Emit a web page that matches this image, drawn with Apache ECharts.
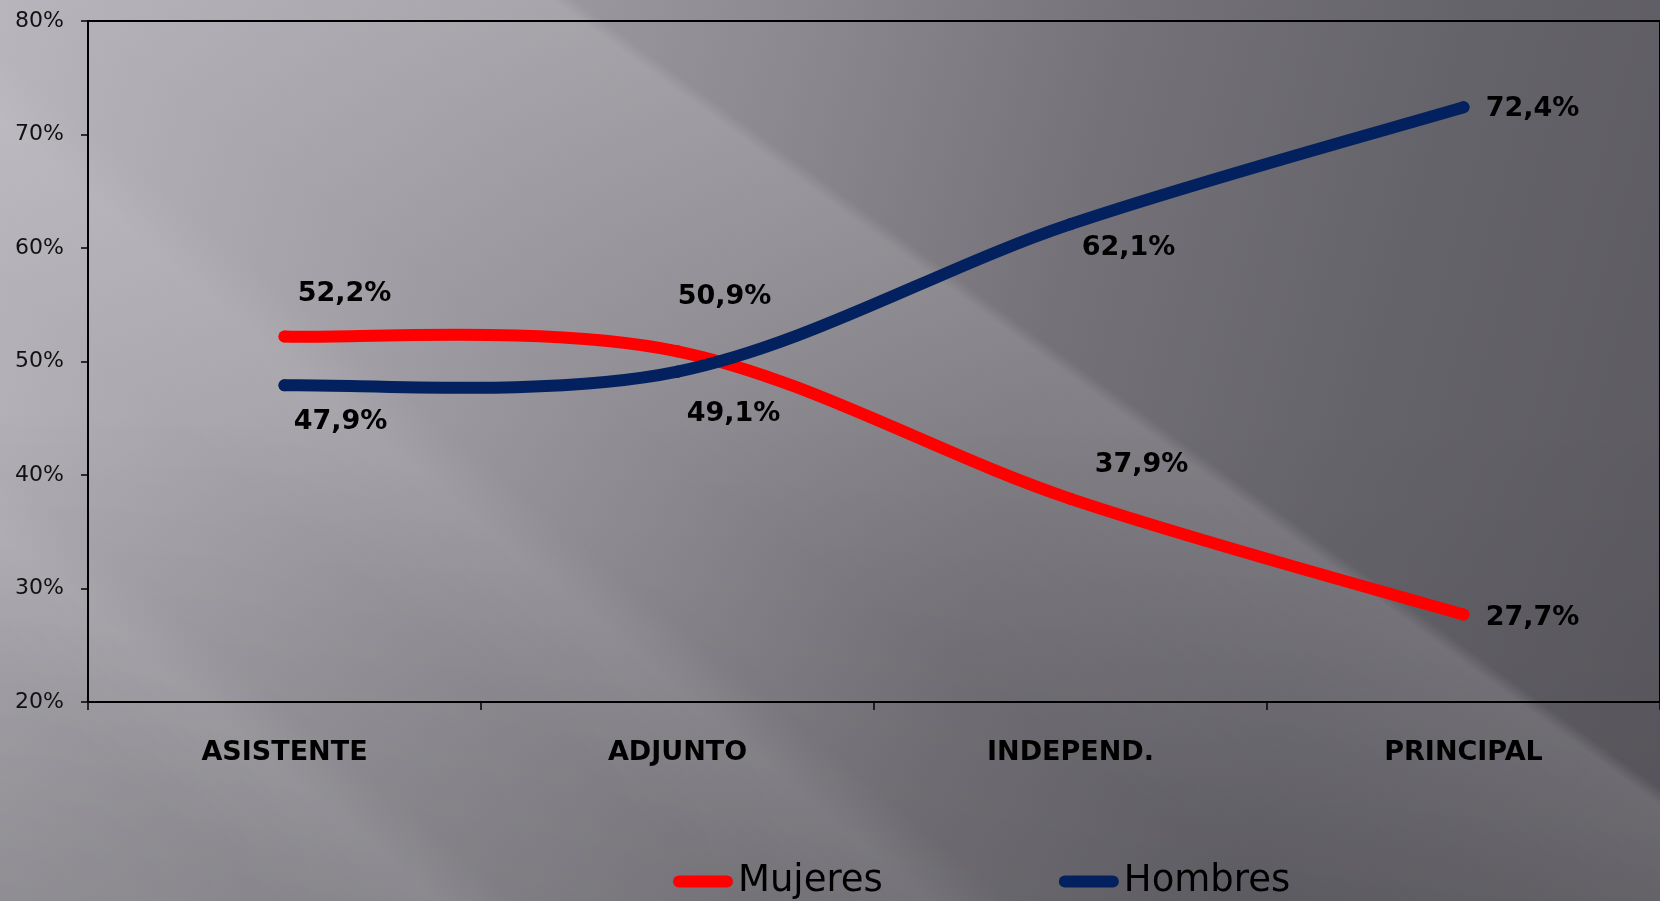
<!DOCTYPE html>
<html>
<head>
<meta charset="utf-8">
<script src="https://cdn.jsdelivr.net/npm/echarts@6/dist/echarts.min.js"></script>
<style>
html, body { margin: 0; padding: 0; width: 1660px; height: 901px; overflow: hidden; }
#chart {
  width: 1660px; height: 901px;
  background:
    linear-gradient(36deg, rgba(255,255,255,0) 44%, rgba(255,255,255,0.06) 53%, rgba(255,255,255,0.13) 61.8%, rgba(255,255,255,0) 62.6%),
    linear-gradient(40deg, rgba(255,255,255,0) 10%, rgba(255,255,255,0.07) 16%, rgba(255,255,255,0) 19%, rgba(255,255,255,0) 27%, rgba(255,255,255,0.07) 34%, rgba(255,255,255,0) 37%),
    radial-gradient(ellipse 900px 500px at 0% 100%, rgba(0,0,0,0.10), rgba(0,0,0,0) 100%),
    linear-gradient(to bottom, rgba(0,0,0,0) 45%, rgba(0,0,0,0.07) 100%),
    linear-gradient(105deg, #b8b6bc 0%, #a3a1a7 22%, #8c8a90 42%, #747278 60%, #65636a 78%, #5b595f 100%);
}
</style>
</head>
<body>
<div id="chart"></div>
<script>
// ---- data ----
const categories = ['ASISTENTE', 'ADJUNTO', 'INDEPEND.', 'PRINCIPAL'];
const mujeres = [52.2, 50.9, 37.9, 27.7];
const hombres = [47.9, 49.1, 62.1, 72.4];
const seriesNames = ['Mujeres', 'Hombres'];
const yTicks = { min: 20, max: 80, step: 10 };

// ---- label placement (style, relative to each point) ----
const mujeresLabelOffsets = [[60, -43], [47, -54], [71, -34], [69, 3]];
const hombresLabelOffsets = [[56, 37], [56, 42], [58, 24], [69, 2]];

const colors = { Mujeres: '#ff0000', Hombres: '#03215f' };

const fmt = v => v.toFixed(1).replace('.', ',') + '%';

function buildData(values, offsets) {
  return values.map((v, i) => ({ value: v, label: { offset: offsets[i] } }));
}

// smooth curve through the points (Catmull-Rom style Bezier), positioned via the chart's own axes
function curveRenderer(values, color) {
  return function (params, api) {
    const i = params.dataIndex;
    const n = values.length;
    if (i >= n - 1) return null;
    const P = k => api.coord([k, values[k]]);
    const p0 = P(i), p1 = P(i + 1);
    const prev = i > 0 ? P(i - 1) : p0;
    const next = i + 2 < n ? P(i + 2) : p1;
    const c1 = [p0[0] + (p1[0] - prev[0]) / 6, p0[1] + (p1[1] - prev[1]) / 6];
    const c2 = [p1[0] - (next[0] - p0[0]) / 6, p1[1] - (next[1] - p0[1]) / 6];
    return {
      type: 'bezierCurve',
      shape: { x1: p0[0], y1: p0[1], cpx1: c1[0], cpy1: c1[1], cpx2: c2[0], cpy2: c2[1], x2: p1[0], y2: p1[1] },
      style: { stroke: color, lineWidth: 12, fill: null, lineCap: 'round' }
    };
  };
}

const labelStyle = {
  show: true,
  position: 'inside',
  align: 'center',
  verticalAlign: 'middle',
  fontFamily: 'DejaVu Sans',
  fontWeight: 'bold',
  fontSize: 27,
  color: '#000',
  formatter: p => fmt(p.value)
};

const capsule = 'path://M6,0 L54,0 A6,6 0 0 1 54,12 L6,12 A6,6 0 0 1 6,0 Z';

function curveSeries(name, values) {
  return {
    name: name, type: 'custom', coordinateSystem: 'cartesian2d',
    data: values.map((v, i) => [i, v]),
    encode: { x: 0, y: 1 },
    itemStyle: { color: colors[name] },
    renderItem: curveRenderer(values, colors[name]),
    silent: true, z: 2
  };
}

function pointSeries(name, values, offsets) {
  return {
    name: name, type: 'line',
    data: buildData(values, offsets),
    symbol: 'circle', symbolSize: 12,
    itemStyle: { color: colors[name] },
    lineStyle: { opacity: 0 },
    label: labelStyle,
    z: 3
  };
}

const chart = echarts.init(document.getElementById('chart'), null, { renderer: 'canvas' });
chart.setOption({
  backgroundColor: 'transparent',
  animation: false,
  grid: {
    left: 88, top: 21, width: 1576, height: 681,
    show: true, borderColor: '#000', borderWidth: 2, backgroundColor: 'transparent'
  },
  legend: {
    data: seriesNames.map(n => ({ name: n, icon: capsule })),
    left: 668, top: 858,
    itemWidth: 60, itemHeight: 12, itemGap: 176,
    textStyle: { fontFamily: 'DejaVu Sans', fontSize: 37, color: '#000' }
  },
  xAxis: {
    type: 'category',
    data: categories,
    boundaryGap: true,
    axisLine: { lineStyle: { color: '#000', width: 2 } },
    axisTick: { show: true, length: 8, lineStyle: { color: '#000', width: 1.5 } },
    axisLabel: { fontFamily: 'DejaVu Sans', fontWeight: 'bold', fontSize: 27, color: '#000', margin: 37, interval: 0 },
    splitLine: { show: false }
  },
  yAxis: {
    type: 'value',
    min: yTicks.min, max: yTicks.max, interval: yTicks.step,
    axisLine: { show: true, lineStyle: { color: '#000', width: 2 } },
    axisTick: { show: true, length: 7, lineStyle: { color: '#000', width: 1.5 } },
    axisLabel: { fontFamily: 'DejaVu Sans', fontSize: 22, color: '#111', margin: 24, formatter: '{value}%' },
    splitLine: { show: false }
  },
  series: [
    curveSeries(seriesNames[0], mujeres),
    curveSeries(seriesNames[1], hombres),
    pointSeries(seriesNames[0], mujeres, mujeresLabelOffsets),
    pointSeries(seriesNames[1], hombres, hombresLabelOffsets)
  ]
});
</script>
</body>
</html>
